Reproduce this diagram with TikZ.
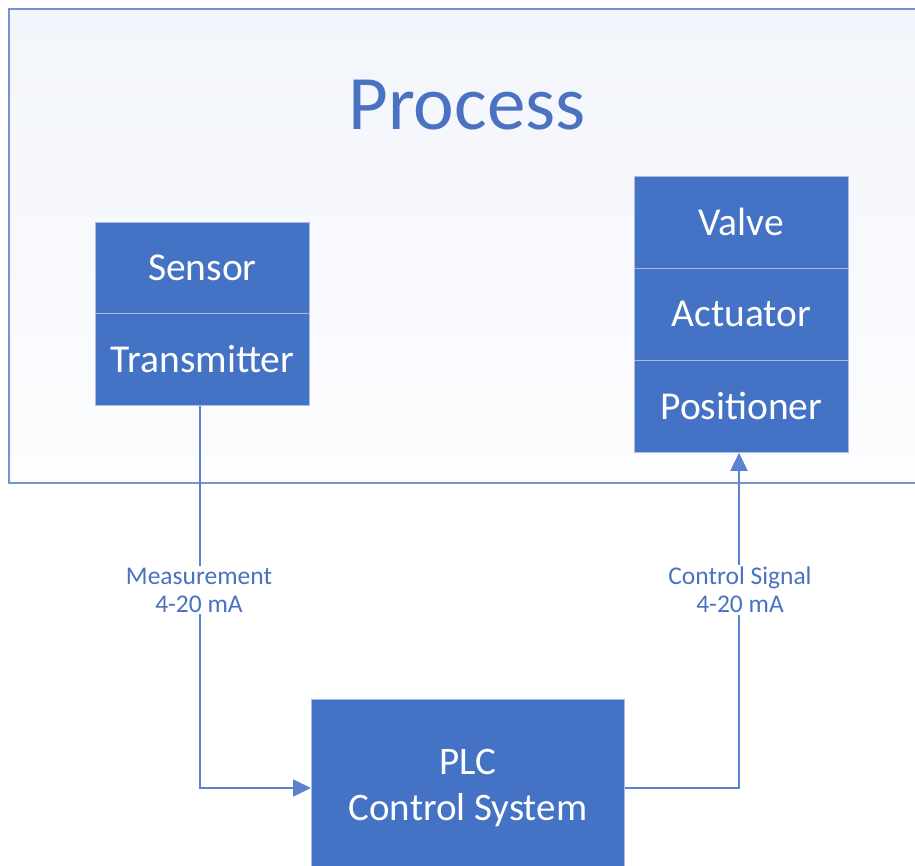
\documentclass[tikz,border=0pt]{standalone}
\usepackage{fontspec}
\setmainfont{Carlito}
\usetikzlibrary{arrows.meta}
\definecolor{boxblue}{HTML}{4472C4}
\definecolor{boxedge}{HTML}{A9BDE3}
\definecolor{linkblue}{HTML}{5B82CF}
\definecolor{labelblue}{HTML}{4A72C0}
\definecolor{procedge}{HTML}{7393D2}
\definecolor{proctop}{HTML}{F2F5FB}
\definecolor{procbot}{HTML}{FDFDFF}
\tikzset{
  cell/.style={rectangle, fill=boxblue, draw=boxedge, line width=0.8pt,
    minimum width=214pt, minimum height=92pt, inner sep=0pt, text=white,
    font=\fontsize{39.5}{46}\selectfont, anchor=north west},
  conn/.style={draw=linkblue, line width=1.8pt, -{Triangle[length=18pt,width=17pt]}},
  siglabel/.style={fill=white, text=labelblue, align=center, inner sep=2pt,
    font=\fontsize{25.5}{28}\selectfont}
}
\begin{document}
\begin{tikzpicture}[x=1pt,y=-1pt]
\useasboundingbox (0,0) rectangle (915,866);
\clip (0,0) rectangle (915,866);
% process region
\shade[top color=proctop, bottom color=procbot] (9,9) rectangle (930,483);
\draw[procedge, line width=1.8pt] (930,9) -- (9,9) -- (9,483) -- (930,483);
\node[text=labelblue, font=\fontsize{77}{84}\selectfont] (proc) at (467,105) {Process};
% sensor / transmitter
\node[cell, minimum height=91pt] (sensor) at (95,222) {Sensor};
\node[cell, minimum height=92pt] (trans) at (95,313) {Transmitter};
% valve / actuator / positioner
\node[cell] (valve) at (634,176) {Valve};
\node[cell] (act) at (634,268) {Actuator};
\node[cell] (pos) at (634,360) {Positioner};
% PLC
\node[cell, minimum width=313pt, minimum height=178pt, align=center,
  font=\fontsize{39}{46}\selectfont] (plc) at (311,699) {PLC\\Control System};
% connectors
\coordinate (lc) at (200,788);
\coordinate (rc) at (739,788);
\draw[conn] (trans.south -| lc) -- (lc) -- (plc.west |- lc);
\draw[conn] (plc.east |- rc) -- (rc) -- (pos.south -| rc);
\node[siglabel] (mlabel) at (199,590) {Measurement\\4-20 mA};
\node[siglabel] (clabel) at (740,590) {Control Signal\\4-20 mA};
\end{tikzpicture}
\end{document}
